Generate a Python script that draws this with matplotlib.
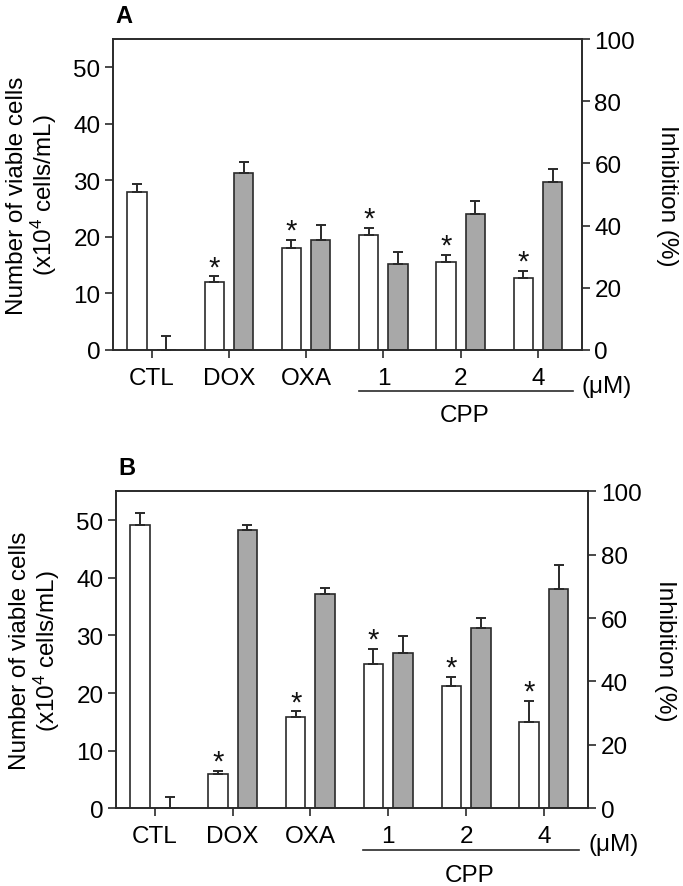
import numpy as np
import matplotlib
matplotlib.use('Agg')
import matplotlib.pyplot as plt
import matplotlib.transforms as mtransforms

plt.rcParams['font.family'] = ['Liberation Sans', 'DejaVu Sans']
plt.rcParams['mathtext.fontset'] = 'custom'
plt.rcParams['mathtext.rm'] = 'Liberation Sans'
plt.rcParams['mathtext.it'] = 'Liberation Sans:italic'

groups = ['CTL', 'DOX', 'OXA', '1', '2', '4']
starred = [False, True, True, True, True, True]

# panel A: viable cells (x10^4 cells/mL) and inhibition (%)
cells_a = [28.0, 12.0, 18.1, 20.4, 15.6, 12.8]
cells_err_a = [1.4, 1.0, 1.3, 1.2, 1.2, 1.2]
inhib_a = [0.0, 56.9, 35.5, 27.5, 43.8, 53.9]
inhib_err_a = [4.4, 3.6, 4.6, 4.0, 4.2, 4.2]

# panel B
cells_b = [49.2, 5.9, 15.8, 25.1, 21.2, 15.0]
cells_err_b = [2.0, 0.6, 1.0, 2.5, 1.6, 3.7]
inhib_b = [0.0, 87.9, 67.7, 49.0, 56.8, 69.2]
inhib_err_b = [3.6, 1.4, 1.9, 5.3, 3.1, 7.5]

FS = 17.5
GREY = '#a8a8a8'
EDGE = '#2a2a2a'


def draw_panel(ax, letter, cells, cells_err, inhib, inhib_err, rpad):
    x = np.arange(len(groups))
    w = 0.25
    off = 0.19
    ax2 = ax.twinx()
    ax.set_zorder(ax2.get_zorder() + 1)
    ax.patch.set_visible(False)

    ax.bar(x - off, cells, w, color='white', edgecolor=EDGE, linewidth=1.2)
    ax.errorbar(x - off, cells, yerr=[np.zeros(len(x)), cells_err], fmt='none',
                ecolor=EDGE, elinewidth=1.4, capsize=3.6, capthick=1.4)
    ax2.bar(x + off, inhib, w, color=GREY, edgecolor=EDGE, linewidth=1.2)
    ax2.errorbar(x + off, inhib, yerr=[np.zeros(len(x)), inhib_err], fmt='none',
                 ecolor=EDGE, elinewidth=1.4, capsize=3.6, capthick=1.4)

    for xi, v, e, s in zip(x, cells, cells_err, starred):
        if s:
            ax.annotate('*', xy=(xi - off, v + e), xytext=(0, 1), textcoords='offset points',
                        ha='center', va='baseline', fontsize=21, color='#111111')

    ax.set_xlim(-0.5, 5.57)
    ax.set_ylim(0, 55)
    ax2.set_ylim(0, 100)
    ax.set_yticks(np.arange(0, 51, 10))
    ax2.set_yticks(np.arange(0, 101, 20))
    ax.set_xticks(x)
    ax.set_xticklabels(groups)

    for a in (ax, ax2):
        for sp in a.spines.values():
            sp.set_linewidth(1.2)
            sp.set_color(EDGE)
        a.tick_params(labelsize=FS, width=1.2, length=6, color=EDGE, pad=3)
    ax.tick_params(axis='x', pad=6)

    ax.set_ylabel('Number of viable cells\n(x10$^4$ cells/mL)', fontsize=FS,
                  linespacing=1.05, labelpad=10)
    ax2.set_ylabel('Inhibition (%)', fontsize=FS, rotation=270, labelpad=rpad)

    trans = mtransforms.blended_transform_factory(ax.transData, ax.transAxes)
    ax.annotate('(\u03bcM)', xy=(5.57, 0), xycoords=trans, xytext=(0, -18),
                textcoords='offset points', ha='left', va='top', fontsize=FS)
    ax.plot([2.68, 5.45], [-0.133, -0.133], transform=trans, color=EDGE,
            linewidth=1.2, clip_on=False)
    ax.text(4.05, -0.21, 'CPP', transform=trans, ha='center', va='center', fontsize=FS)
    ax.text(0.005, 1.04, letter, transform=ax.transAxes, ha='left', va='bottom',
            fontsize=17, fontweight='bold')


fig = plt.figure(figsize=(6.83, 8.87), dpi=100)
ax_a = fig.add_axes([0.1654, 0.6043, 0.6867, 0.3506])
ax_b = fig.add_axes([0.1698, 0.0876, 0.6913, 0.3574])
draw_panel(ax_a, 'A', cells_a, cells_err_a, inhib_a, inhib_err_a, 31)
draw_panel(ax_b, 'B', cells_b, cells_err_b, inhib_b, inhib_err_b, 25)

fig.savefig('out.png', dpi=100)
